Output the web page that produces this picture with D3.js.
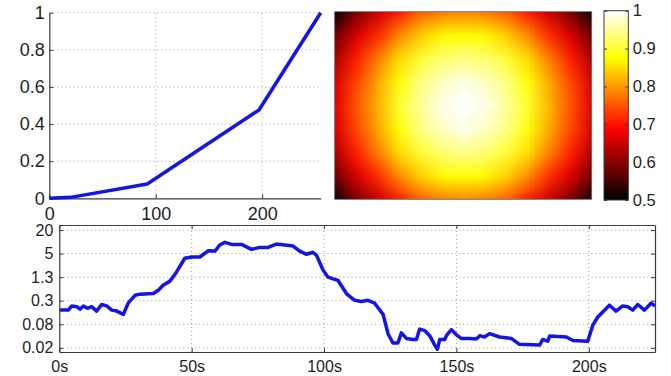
<!DOCTYPE html>
<html>
<head>
<meta charset="utf-8">
<script src="https://cdn.jsdelivr.net/npm/d3@7"></script>
<style>
  body { margin: 0; background: #fff; }
  svg { display: block; font-family: "Liberation Sans", Arial, Helvetica, sans-serif; }
  .axis path, .axis line { stroke: #3a3a3a; }
  .axis text { fill: #1e1e1e; }
  .grid line { stroke: #9a9a9a; stroke-dasharray: 1,3; }
</style>
</head>
<body>
<div id="chart"></div>
<script>
// ramp (top left)
const rampX = [0, 20, 92, 197, 255];
const rampY = [0, 0.005, 0.077, 0.476, 1];
const rampXTicks = [0, 100, 200];
const rampYTicks = [0, 0.2, 0.4, 0.6, 0.8, 1];

// heat map samples, rows top -> bottom, columns left -> right (grid nodes incl. edges)
const heatRows = [
  [0.51, 0.59, 0.65, 0.71, 0.76, 0.78, 0.79, 0.78, 0.76, 0.71, 0.65, 0.59, 0.51],
  [0.58, 0.66, 0.72, 0.79, 0.84, 0.87, 0.88, 0.87, 0.84, 0.79, 0.72, 0.66, 0.58],
  [0.63, 0.71, 0.78, 0.85, 0.90, 0.93, 0.94, 0.93, 0.90, 0.85, 0.78, 0.71, 0.63],
  [0.66, 0.74, 0.81, 0.88, 0.94, 0.97, 0.99, 0.97, 0.94, 0.88, 0.81, 0.74, 0.66],
  [0.67, 0.75, 0.82, 0.90, 0.95, 0.99, 1.00, 0.99, 0.95, 0.90, 0.82, 0.75, 0.67],
  [0.66, 0.74, 0.81, 0.88, 0.94, 0.97, 0.99, 0.97, 0.94, 0.88, 0.81, 0.74, 0.66],
  [0.63, 0.71, 0.78, 0.85, 0.90, 0.93, 0.94, 0.93, 0.90, 0.85, 0.78, 0.71, 0.63],
  [0.58, 0.66, 0.72, 0.79, 0.84, 0.87, 0.88, 0.87, 0.84, 0.79, 0.72, 0.66, 0.58],
  [0.51, 0.59, 0.65, 0.71, 0.76, 0.78, 0.79, 0.78, 0.76, 0.71, 0.65, 0.59, 0.51]
];
const colorbarTicks = [0.5, 0.6, 0.7, 0.8, 0.9, 1];

// time series (bottom)
const seriesT = [0, 3.4, 4.7, 6.6, 7.8, 9.1, 10.6, 12.2, 14.1, 16.0, 17.9, 19.8, 21.7, 24.2, 26.0, 28.6, 30.5,
  35.5, 37.4, 39.2, 41.8, 44.3, 47.4, 50.0, 53.1, 55.0, 56.2, 58.8, 60.6, 62.5, 65.1, 68.8, 72.6, 75.7, 78.9,
  82.0, 85.2, 88.3, 90.8, 93.4, 95.8, 97.1, 99.6, 101.5, 103.4, 105.3, 108.5, 111.6, 114.1, 116.6, 119.1,
  122.3, 124.2, 126.0, 127.9, 129.2, 131.1, 133.6, 134.9, 136.1, 138.0, 139.9, 141.8, 142.8, 143.7, 145.6,
  146.2, 148.1, 150.0, 151.8, 155.0, 157.5, 158.8, 160.6, 162.5, 166.3, 170.7, 173.8, 181.4, 182.6, 184.5,
  185.2, 191.5, 194.0, 199.6, 201.5, 203.4, 207.8, 210.3, 212.8, 214.7, 216.6, 218.5, 221.0, 223.5, 225];
const seriesV = [0.18, 0.18, 0.23, 0.22, 0.19, 0.23, 0.20, 0.22, 0.17, 0.25, 0.23, 0.18, 0.17, 0.14, 0.27, 0.43, 0.46,
  0.48, 0.58, 0.78, 0.99, 1.7, 3.8, 4.1, 4.1, 5.1, 5.9, 5.8, 8.3, 9.7, 8.6, 8.6, 6.4, 7.2, 7.2,
  8.8, 8.3, 7.8, 5.8, 4.8, 5.4, 4.6, 1.9, 1.25, 1.13, 1.03, 0.47, 0.32, 0.30, 0.32, 0.27,
  0.14, 0.044, 0.026, 0.026, 0.047, 0.034, 0.032, 0.032, 0.059, 0.054, 0.040, 0.023, 0.018, 0.032, 0.032,
  0.040, 0.057, 0.042, 0.034, 0.034, 0.033, 0.040, 0.037, 0.045, 0.037, 0.034, 0.024, 0.023, 0.032, 0.029,
  0.039, 0.037, 0.030, 0.029, 0.074, 0.12, 0.24, 0.17, 0.23, 0.22, 0.18, 0.25, 0.18, 0.27, 0.23];
const seriesXTicks = [0, 50, 100, 150, 200];
const seriesXLabels = ['0s', '50s', '100s', '150s', '200s'];
const seriesYTicks = [0.01953125, 0.078125, 0.3125, 1.25, 5, 20];
const seriesYLabels = ['0.02', '0.08', '0.3', '1.3', '5', '20'];

const W = 671, H = 376;
const lineColor = '#1414e6';

const svg = d3.select('#chart').append('svg')
  .attr('width', W).attr('height', H);

// hot colormap, clim [0.5 1]
const hot = d3.scaleLinear()
  .domain([0.5, 0.6875, 0.875, 1])
  .range(['#000000', '#ff0000', '#ffff00', '#ffffff'])
  .clamp(true);

function drawGrid(g, x, y, xt, yt) {
  const grid = g.append('g').attr('class', 'grid');
  grid.selectAll('.gx').data(xt).join('line')
    .attr('x1', d => x(d)).attr('x2', d => x(d))
    .attr('y1', y.range()[0]).attr('y2', y.range()[1]);
  grid.selectAll('.gy').data(yt).join('line')
    .attr('x1', x.range()[0]).attr('x2', x.range()[1])
    .attr('y1', d => y(d)).attr('y2', d => y(d));
}

// ---------- top left: ramp ----------
{
  const x = d3.scaleLinear().domain([0, 255]).range([49.3, 320.7]);
  const y = d3.scaleLinear().domain([0, 1]).range([198.3, 12.7]);
  const g = svg.append('g');

  drawGrid(g, x, y, rampXTicks.filter(d => d > 0), rampYTicks.filter(d => d > 0));

  g.append('g').attr('class', 'axis')
    .attr('transform', `translate(0,${y(0)})`)
    .style('font-size', '18px')
    .call(d3.axisBottom(x).tickValues(rampXTicks).tickFormat(d3.format('d'))
      .tickSizeInner(-4).tickSizeOuter(0).tickPadding(8.5))
    .call(a => a.select('.domain').attr('stroke-width', 1.2));

  g.append('g').attr('class', 'axis')
    .attr('transform', `translate(${x(0)},0)`)
    .style('font-size', '18px')
    .call(d3.axisLeft(y).tickValues(rampYTicks).tickFormat(d => d3.format('')(d))
      .tickSizeInner(-4).tickSizeOuter(0).tickPadding(4.5))
    .call(a => a.select('.domain').attr('stroke-width', 1.2));

  const line = d3.line()
    .x((d, i) => x(rampX[i]))
    .y(d => y(d));

  g.append('path')
    .datum(rampY)
    .attr('fill', 'none')
    .attr('stroke', lineColor)
    .attr('stroke-width', 3.5)
    .attr('stroke-linejoin', 'round')
    .attr('d', line);
}

// ---------- top right: heat map + colorbar ----------
{
  const left = 334.7, right = 591.7, top = 11.7, bottom = 199.3;
  const nCols = heatRows[0].length, nRows = heatRows.length;

  // node positions: first/last node sit on the image edges
  const xs = d3.scaleLinear().domain([0, nCols - 1]).range([left, right]);
  const ys = d3.scaleLinear().domain([0, nRows - 1]).range([top, bottom]);
  const cw = xs(1) - xs(0), ch = ys(1) - ys(0);

  const canvas = document.createElement('canvas');
  canvas.width = nCols; canvas.height = nRows;
  const ctx = canvas.getContext('2d');
  const img = ctx.createImageData(nCols, nRows);
  heatRows.forEach((row, j) => row.forEach((v, i) => {
    const c = d3.rgb(hot(v));
    const k = (j * nCols + i) * 4;
    img.data[k] = c.r; img.data[k + 1] = c.g; img.data[k + 2] = c.b; img.data[k + 3] = 255;
  }));
  ctx.putImageData(img, 0, 0);

  svg.append('clipPath').attr('id', 'heat-clip')
    .append('rect')
    .attr('x', left).attr('y', top)
    .attr('width', right - left).attr('height', bottom - top);

  svg.append('image')
    .attr('clip-path', 'url(#heat-clip)')
    .attr('href', canvas.toDataURL())
    .attr('x', xs(0) - cw / 2).attr('y', ys(0) - ch / 2)
    .attr('width', cw * nCols).attr('height', ch * nRows)
    .attr('preserveAspectRatio', 'none');

  svg.append('rect')
    .attr('x', left).attr('y', top)
    .attr('width', right - left).attr('height', bottom - top)
    .attr('fill', 'none').attr('stroke', '#666').attr('stroke-width', 0.8);

  // colorbar
  const cbL = 604, cbR = 628.3, cbT = 10.7, cbB = 200;
  const cy = d3.scaleLinear().domain([0.5, 1]).range([cbB, cbT]);

  const grad = svg.append('defs').append('linearGradient')
    .attr('id', 'hot-grad')
    .attr('x1', 0).attr('y1', 1).attr('x2', 0).attr('y2', 0);
  grad.selectAll('stop').data(hot.domain()).join('stop')
    .attr('offset', d => (d - 0.5) / 0.5)
    .attr('stop-color', d => hot(d));

  svg.append('rect')
    .attr('x', cbL).attr('y', cbT)
    .attr('width', cbR - cbL).attr('height', cbB - cbT)
    .attr('fill', 'url(#hot-grad)')
    .attr('stroke', '#3a3a3a').attr('stroke-width', 1);

  svg.append('g').attr('class', 'axis')
    .attr('transform', `translate(${cbR},0)`)
    .style('font-size', '16.5px')
    .call(d3.axisRight(cy).tickValues(colorbarTicks).tickFormat(d => d3.format('')(d))
      .tickSizeInner(-3).tickSizeOuter(0).tickPadding(4.5))
    .call(a => a.select('.domain').remove());

  svg.append('g').attr('class', 'axis')
    .attr('transform', `translate(${cbL},0)`)
    .call(d3.axisLeft(cy).tickValues(colorbarTicks).tickFormat('')
      .tickSizeInner(-3).tickSizeOuter(0))
    .call(a => a.select('.domain').remove());
}

// ---------- bottom: time series ----------
{
  const x = d3.scaleLinear().domain([0, 225]).range([59.3, 655]);
  const y = d3.scaleLog().domain([0.0153, 26.9]).range([352, 225]);
  const g = svg.append('g');

  drawGrid(g, x, y, seriesXTicks.slice(1), seriesYTicks);

  g.append('clipPath').attr('id', 'series-clip')
    .append('rect')
    .attr('x', x.range()[0]).attr('y', y.range()[1])
    .attr('width', x.range()[1] - x.range()[0]).attr('height', y.range()[0] - y.range()[1]);

  const line = d3.line()
    .x((d, i) => x(seriesT[i]))
    .y(d => y(d));

  g.append('path')
    .datum(seriesV)
    .attr('clip-path', 'url(#series-clip)')
    .attr('fill', 'none')
    .attr('stroke', lineColor)
    .attr('stroke-width', 3.5)
    .attr('stroke-linejoin', 'round')
    .attr('d', line);

  const lab = (vals, labels) => d => labels[vals.indexOf(d)];

  g.append('g').attr('class', 'axis')
    .attr('transform', `translate(0,${y.range()[0]})`)
    .style('font-size', '16px')
    .call(d3.axisBottom(x).tickValues(seriesXTicks).tickFormat(lab(seriesXTicks, seriesXLabels))
      .tickSizeInner(-4).tickSizeOuter(0).tickPadding(9));

  g.append('g').attr('class', 'axis')
    .attr('transform', `translate(0,${y.range()[1]})`)
    .call(d3.axisTop(x).tickValues(seriesXTicks).tickFormat('')
      .tickSizeInner(-4).tickSizeOuter(0));

  g.append('g').attr('class', 'axis')
    .attr('transform', `translate(${x.range()[0]},0)`)
    .style('font-size', '16px')
    .call(d3.axisLeft(y).tickValues(seriesYTicks).tickFormat(lab(seriesYTicks, seriesYLabels))
      .tickSizeInner(-4).tickSizeOuter(0).tickPadding(6));

  g.append('g').attr('class', 'axis')
    .attr('transform', `translate(${x.range()[1]},0)`)
    .call(d3.axisRight(y).tickValues(seriesYTicks).tickFormat('')
      .tickSizeInner(-4).tickSizeOuter(0));

  g.selectAll('.axis .domain').attr('stroke-width', 1.2);
}
</script>
</body>
</html>
